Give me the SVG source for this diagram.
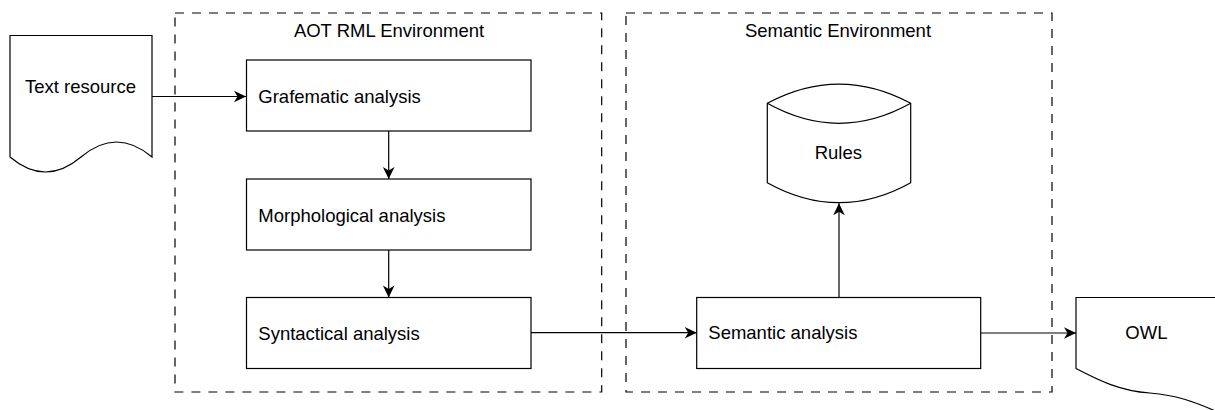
<svg xmlns="http://www.w3.org/2000/svg" width="1215" height="410" viewBox="0 0 1215 410">
  <style>
    .bg { fill: #ffffff; }
    .env { fill: none; stroke: #000000; stroke-width: 1.2; stroke-dasharray: 9 8; }
    .shape { fill: #ffffff; stroke: #000000; stroke-width: 1.2; }
    .edge { fill: none; stroke: #000000; stroke-width: 1.2; }
    .lbl { font-family: "Liberation Sans", Arial, sans-serif; font-size: 18.5px; fill: #000000; }
    .mid { text-anchor: middle; }
  </style>
  <defs>
    <marker id="arrow" viewBox="-13 -7 14 14" refX="0" refY="0" markerWidth="14" markerHeight="14" orient="auto" markerUnits="userSpaceOnUse">
      <path d="M0,0 L-12,-5.8 L-8.5,0 L-12,5.8 Z" fill="#000000"/>
    </marker>
  </defs>

  <rect class="bg" x="0" y="0" width="1215" height="410"/>

  <!-- environment containers -->
  <g id="aot-rml-environment">
    <rect class="env" x="175" y="13" width="426.7" height="379"/>
    <text class="lbl mid" x="389" y="37.3">AOT RML Environment</text>
  </g>
  <g id="semantic-environment">
    <rect class="env" x="626" y="13" width="426" height="379"/>
    <text class="lbl mid" x="838" y="37.3">Semantic Environment</text>
  </g>

  <!-- connectors -->
  <g id="connectors">
    <path class="edge" d="M152,96.5 H246" marker-end="url(#arrow)"/>
    <path class="edge" d="M388.7,131 V179" marker-end="url(#arrow)"/>
    <path class="edge" d="M388.7,250 V297.5" marker-end="url(#arrow)"/>
    <path class="edge" d="M531,332.7 H696.7" marker-end="url(#arrow)"/>
    <path class="edge" d="M839,297.5 V203.3" marker-end="url(#arrow)"/>
    <path class="edge" d="M980.7,333 H1076" marker-end="url(#arrow)"/>
  </g>

  <!-- document: source text -->
  <g id="text-resource">
    <path class="shape" d="M10,35.5 H152 V157 Q116.5,127 81,157 Q45.5,187 10,157 Z"/>
    <text class="lbl mid" x="80.5" y="92.6">Text resource</text>
  </g>

  <!-- processing steps -->
  <g id="grafematic-analysis">
    <rect class="shape" x="246.5" y="60" width="284.5" height="71"/>
    <text class="lbl" x="258.3" y="102.6">Grafematic analysis</text>
  </g>
  <g id="morphological-analysis">
    <rect class="shape" x="246.5" y="179" width="284.5" height="71"/>
    <text class="lbl" x="258.3" y="221.6">Morphological analysis</text>
  </g>
  <g id="syntactical-analysis">
    <rect class="shape" x="246.5" y="297.5" width="284.5" height="71"/>
    <text class="lbl" x="258.3" y="339.6">Syntactical analysis</text>
  </g>
  <g id="semantic-analysis">
    <rect class="shape" x="696.7" y="297.5" width="284" height="71"/>
    <text class="lbl" x="708.3" y="339.4">Semantic analysis</text>
  </g>

  <!-- rule store -->
  <g id="rules">
    <path class="shape" d="M767.3,103.3 Q839,65 910.7,103.3 V182.7 Q839,222.7 767.3,182.7 Z"/>
    <path class="edge" d="M767.3,103.3 Q839,143.3 910.7,103.3"/>
    <text class="lbl mid" x="838.3" y="159.3">Rules</text>
  </g>

  <!-- document: ontology output -->
  <g id="owl">
    <path class="shape" d="M1220,297.5 H1076 V368.5 C1098,380 1120,391 1150,393 C1176,395 1196,402 1222,414"/>
    <text class="lbl mid" x="1146.4" y="339.3">OWL</text>
  </g>
</svg>
